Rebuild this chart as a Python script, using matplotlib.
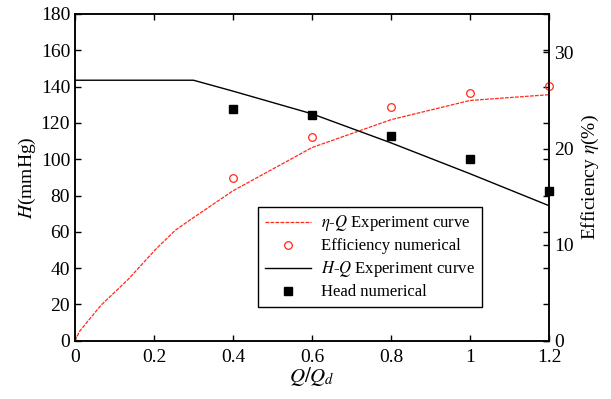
import matplotlib
matplotlib.use('Agg')
import matplotlib.pyplot as plt

plt.rcParams['font.family'] = 'Liberation Serif'
plt.rcParams['mathtext.fontset'] = 'stix'

# H-Q experiment curve (left axis, mmHg)
hq_x = [0.0, 0.3, 0.4, 0.6, 0.8, 1.0, 1.2]
hq_y = [143.5, 143.5, 137.5, 125.0, 109.0, 92.0, 74.4]

# head numerical (left axis)
head_x = [0.4, 0.6, 0.8, 1.0, 1.2]
head_y = [127.6, 124.5, 112.8, 100.3, 82.7]

# eta-Q experiment curve (right axis, %)
eq_x = [0.0, 0.012, 0.066, 0.135, 0.204, 0.254, 0.303, 0.4, 0.6, 0.8, 1.0, 1.2]
eq_y = [0.0, 1.0, 3.7, 6.4, 9.5, 11.5, 12.9, 15.6, 20.1, 23.0, 25.0, 25.6]

# efficiency numerical (right axis)
eff_x = [0.4, 0.6, 0.8, 1.0, 1.2]
eff_y = [16.9, 21.2, 24.3, 25.8, 26.5]

x_ticks = [0, 0.2, 0.4, 0.6, 0.8, 1.0, 1.2]
x_labels = ['0', '0.2', '0.4', '0.6', '0.8', '1', '1.2']

fig = plt.figure(figsize=(6.11, 3.99), dpi=100)
ax = fig.add_axes([0.1227, 0.146, 0.7758, 0.819])
ax2 = ax.twinx()

l_eq, = ax2.plot(eq_x, eq_y, color='#ff2a1a', linestyle=(0, (3, 1)), linewidth=0.9)
l_eff, = ax2.plot(eff_x, eff_y, linestyle='none', marker='o', markersize=5.5,
                  markerfacecolor='none', markeredgecolor='#ff2a1a', markeredgewidth=0.9,
                  clip_on=False)
l_hq, = ax.plot(hq_x, hq_y, color='black', linewidth=1.0)
l_head, = ax.plot(head_x, head_y, linestyle='none', marker='s', markersize=6.3,
                  color='black', clip_on=False)

ax.set_xlim(0, 1.2)
ax.set_ylim(0, 180)
ax2.set_ylim(0, 34)
ax.set_xticks(x_ticks)
ax.set_xticklabels(x_labels)
ax.set_yticks(range(0, 181, 20))
ax2.set_yticks([0, 10, 20, 30])

ax.tick_params(direction='in', length=4, width=1, labelsize=14, top=True, right=True)
ax.tick_params(axis='x', pad=6)
ax2.tick_params(direction='in', length=4, width=1, labelsize=14, pad=4)

for a in (ax, ax2):
    for s in a.spines.values():
        s.set_linewidth(1.1)

ax.set_xlabel(r'$Q/Q_d$', fontsize=15, labelpad=-1)
ax.set_ylabel(r'$H$(mmHg)', fontsize=14, labelpad=2)
ax2.set_ylabel(r'Efficiency $\eta$(%)', fontsize=14, labelpad=4)

leg = ax2.legend([l_eq, l_eff, l_hq, l_head],
                 [r'$\eta$-$Q$ Experiment curve', 'Efficiency numerical',
                  r'$H$-$Q$ Experiment curve', 'Head numerical'],
                 loc='lower left', bbox_to_anchor=(0.386, 0.103), borderaxespad=0,
                 fontsize=12, frameon=True, fancybox=False, edgecolor='black',
                 framealpha=1, borderpad=0.4, labelspacing=0.3, handlelength=2.8,
                 handletextpad=0.6)
leg.get_frame().set_linewidth(1.0)

fig.savefig('out.png', dpi=100)
